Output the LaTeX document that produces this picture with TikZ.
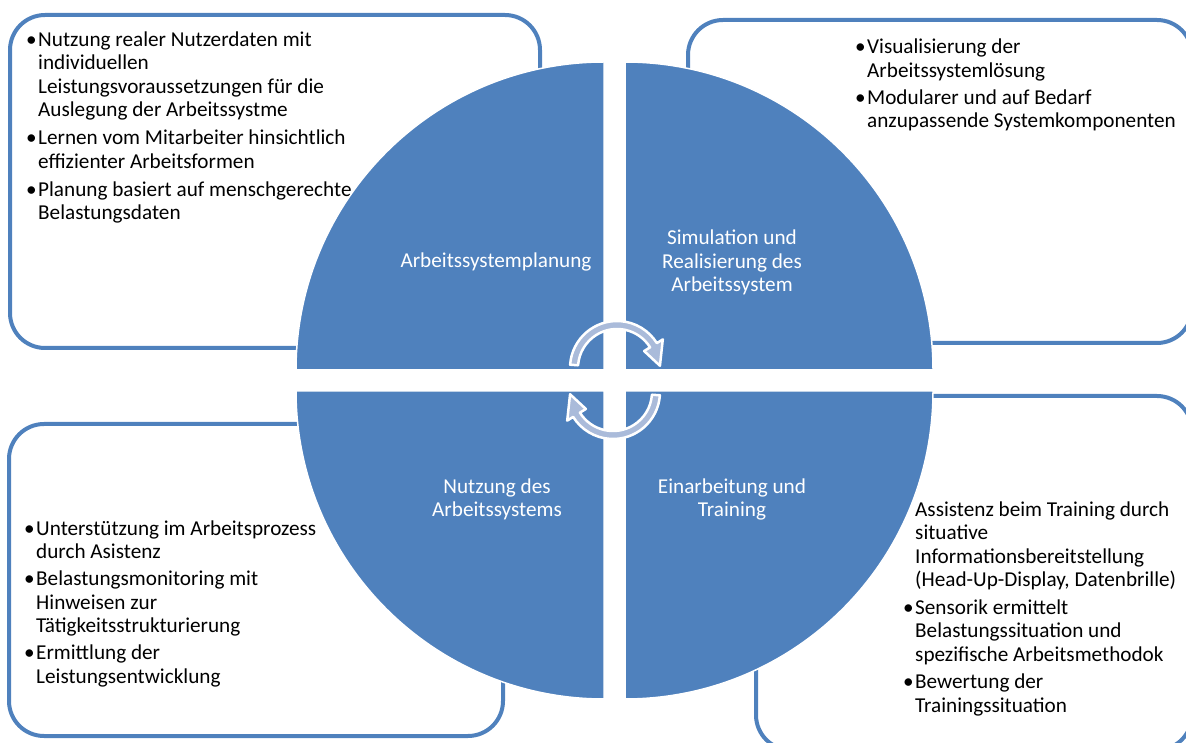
\documentclass[tikz,border=0pt]{standalone}
\usepackage{fontspec}
\setmainfont{Carlito}
\usetikzlibrary{positioning}
\usepackage{xcolor}
\definecolor{quadblue}{RGB}{79,129,189}
\definecolor{cyclefill}{RGB}{170,187,218}
\newcommand{\itembullet}{\llap{\textbullet\hspace{1.5pt}}}

\begin{document}
\begin{tikzpicture}[x=1pt, y=1pt,
    infobox/.style={draw=quadblue, line width=4pt, rounded corners=35pt},
    quarter/.style={fill=quadblue, draw=white, line width=1.5pt},
    itemtext/.style={anchor=base west, align=left, inner sep=0pt,
      font=\fontsize{21.2}{23.5}\selectfont},
    phase/.style={anchor=base, align=center, inner sep=0pt, text=white,
      font=\fontsize{21.2}{23.5}\selectfont},
    cyclearrow/.style={fill=cyclefill, draw=white, line width=2.5pt, line join=round}]
  \clip (0,0) rectangle (1186,742);

  % outer boxes
  \draw[infobox] (10,394) rectangle (540,727);
  \draw[infobox] (688,399) rectangle (1192,722);
  \draw[infobox] (9,6) rectangle (503,318);
  \draw[infobox] (756,-8) rectangle (1192,346);

  % box texts (placed at the baseline of their last line)
  \node[itemtext] (planitems) at (38,522) {\itembullet Nutzung realer Nutzerdaten mit\\
    individuellen\\ Leistungsvoraussetzungen für die\\ Auslegung der Arbeitssystme\\[4.5pt]
    \itembullet Lernen vom Mitarbeiter hinsichtlich\\ effizienter Arbeitsformen\\[4.5pt]
    \itembullet Planung basiert auf menschgerechte\\ Belastungsdaten};
  \node[itemtext] (simitems) at (867,614) {\itembullet Visualisierung der\\
    Arbeitssystemlösung\\[3.5pt]
    \itembullet Modularer und auf Bedarf\\ anzupassende Systemkomponenten};
  \node[itemtext] (useitems) at (36,59) {\itembullet Unterstützung im Arbeitsprozess\\
    durch Asistenz\\[3.5pt]
    \itembullet Belastungsmonitoring mit\\ Hinweisen zur\\ Tätigkeitsstrukturierung\\[3.5pt]
    \itembullet Ermittlung der\\ Leistungsentwicklung};
  \node[itemtext] (trainitems) at (915,30) {Assistenz beim Training durch\\
    situative\\ Informationsbereitstellung\\ (Head-Up-Display, Datenbrille)\\[4pt]
    \itembullet Sensorik ermittelt\\ Belastungssituation und\\ spezifische Arbeitsmethodok\\[4pt]
    \itembullet Bewertung der\\ Trainingssituation};

  % quarter circles
  \filldraw[quarter] (604,372) -- (296,372) arc[start angle=180, end angle=90, radius=308] -- cycle;
  \filldraw[quarter] (625,372) -- (625,680) arc[start angle=90, end angle=0, radius=308] -- cycle;
  \filldraw[quarter] (604,351) -- (296,351) arc[start angle=180, end angle=270, radius=308] -- cycle;
  \filldraw[quarter] (625,351) -- (625,43) arc[start angle=270, end angle=360, radius=308] -- cycle;

  % phase names
  \node[phase] (planung) at (496,474) {Arbeitssystemplanung};
  \node[phase] (simulation) at (732,450) {Simulation und\\ Realisierung des\\ Arbeitssystem};
  \node[phase] (nutzung) at (497,225) {Nutzung des\\ Arbeitssystems};
  \node[phase] (training) at (732,225) {Einarbeitung und\\ Training};

  % cycle arrows
  \begin{scope}[shift={(617,374)}]
    \draw[cyclearrow] (176:47) arc[start angle=176, end angle=32, radius=47] -- (32:54)
      -- (3:43) -- (32:32) -- (32:39) arc[start angle=32, end angle=176, radius=39] -- cycle;
  \end{scope}
  \begin{scope}[shift={(613,350)}, rotate=180]
    \draw[cyclearrow] (176:47) arc[start angle=176, end angle=32, radius=47] -- (32:54)
      -- (3:43) -- (32:32) -- (32:39) arc[start angle=32, end angle=176, radius=39] -- cycle;
  \end{scope}
\end{tikzpicture}
\end{document}
